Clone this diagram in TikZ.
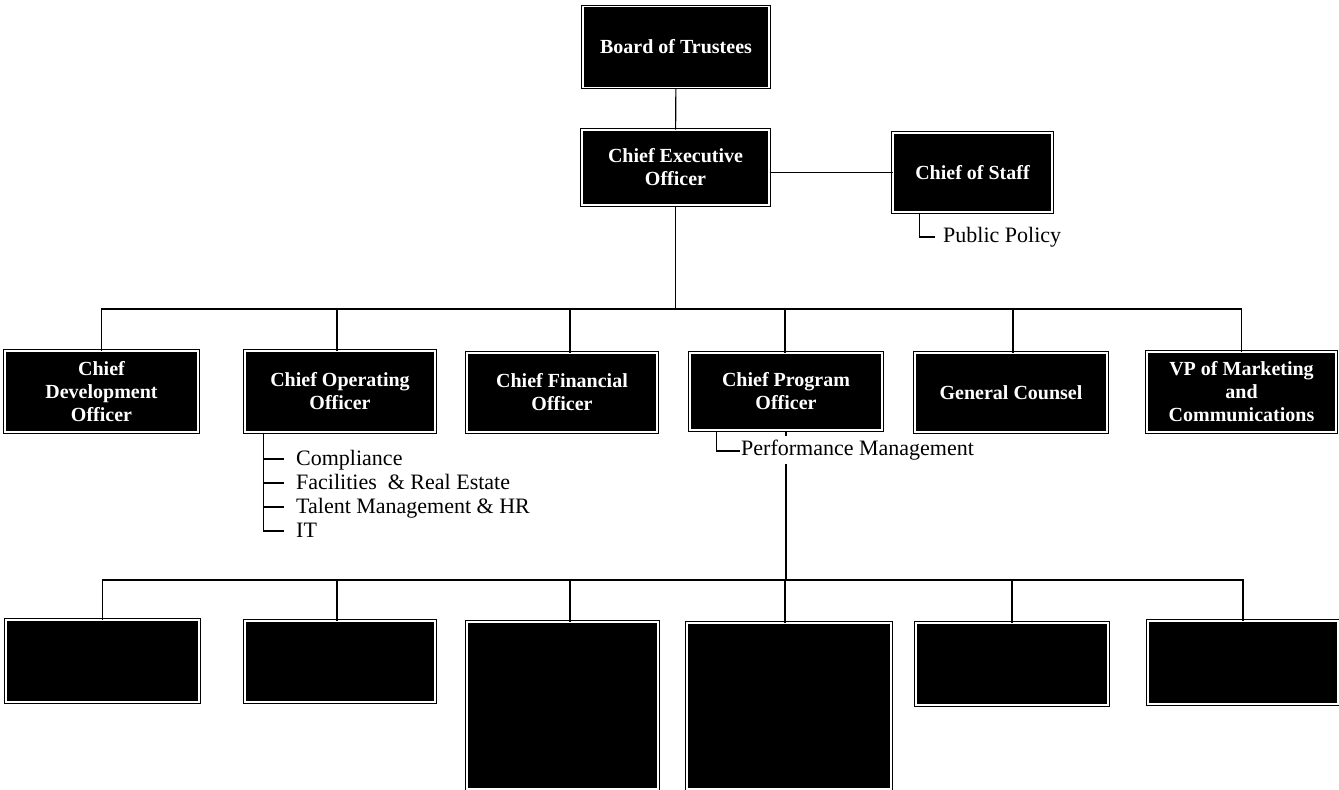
\documentclass[tikz,border=0pt]{standalone}
\usepackage{fontspec}
\setmainfont{Liberation Serif}
\begin{document}
\begin{tikzpicture}[x=1pt,y=-1pt,
  orgbox/.style={draw=black, double=white, double distance=1.3pt, line width=1pt,
    fill=black, text=white, font=\bfseries\fontsize{20}{23}\selectfont,
    align=center, inner sep=0pt},
  wh/.style 2 args={minimum width=#1pt, minimum height=#2pt},
  conn/.style={draw=black, line width=1.1pt},
  item/.style={font=\fontsize{22}{26}\selectfont, inner sep=2pt}]
\useasboundingbox (0,0) rectangle (1339,790);

% top level
\node[orgbox, wh={186}{81}] (bot) at (676,47) {Board of Trustees};
\node[orgbox, wh={187}{75}] (ceo) at (675.5,167.5) {Chief Executive\\Officer};
\node[orgbox, wh={159}{79}] (cos) at (972.5,172.5) {Chief of Staff};

% second level
\node[orgbox, wh={193}{81}] (cdo) at (101.5,391.5) {Chief\\Development\\Officer};
\node[orgbox, wh={190}{81}] (coo) at (340,391.5) {Chief Operating\\Officer};
\node[orgbox, wh={190}{79}] (cfo) at (562,392.5) {Chief Financial\\Officer};
\node[orgbox, wh={192}{77}] (cpo) at (786,391.5) {Chief Program\\Officer};
\node[orgbox, wh={192}{79}] (gc)  at (1011,392.5) {General Counsel};
\node[orgbox, wh={189}{80}] (vp)  at (1241.5,392) {VP of Marketing\\and\\Communications};

% third level
\node[orgbox, wh={193}{82}] (b1) at (102.5,661) {};
\node[orgbox, wh={190}{81}] (b2) at (340,661.5) {};
\node[orgbox, wh={191}{167}] (b3) at (562.5,705.5) {};
\node[orgbox, wh={204}{166}] (b4) at (789,706) {};
\node[orgbox, wh={192}{82}] (b5) at (1012,664) {};
\node[orgbox, wh={190}{83}] (b6) at (1243,662.5) {};

% connectors top
\draw[conn] (bot) -- (ceo);
\draw[conn] (cos.west -| ceo.east) -- (cos.west);

% Public Policy
\node[item, anchor=west] (pp) at (941,237) {Public Policy};
\draw[conn] ([xshift=27pt]cos.south west) |- ([xshift=-6pt]pp.west);

% first bus
\coordinate (busA) at (675.5,309);
\draw[conn] (ceo.south) -- (busA);
\draw[conn] (cdo.north) -- (cdo.north |- busA) -- (vp.north |- busA) -- (vp.north);
\draw[conn] ([xshift=-3pt]coo.north) -- ([xshift=-3pt]coo.north |- busA);
\draw[conn] ([xshift=8pt]cfo.north) -- ([xshift=8pt]cfo.north |- busA);
\draw[conn] ([xshift=-1pt]cpo.north) -- ([xshift=-1pt]cpo.north |- busA);
\draw[conn] ([xshift=2pt]gc.north) -- ([xshift=2pt]gc.north |- busA);

% second bus
\coordinate (busB) at (786,580);
\draw[conn] (cpo.south) -- (busB);
\draw[conn] (b1.north) -- (b1.north |- busB) -- (b6.north |- busB) -- (b6.north);
\draw[conn] ([xshift=-3pt]b2.north) -- ([xshift=-3pt]b2.north |- busB);
\draw[conn] ([xshift=7.5pt]b3.north) -- ([xshift=7.5pt]b3.north |- busB);
\draw[conn] ([xshift=-4pt]b4.north) -- ([xshift=-4pt]b4.north |- busB);
\draw[conn] (b5.north) -- (b5.north |- busB);

% Performance Management
\node[item, anchor=base west, fill=white, inner ysep=4pt] (pm) at (739,455) {Performance Management};
\draw[conn] ([xshift=27pt]cpo.south west) |- ([xshift=1pt,yshift=4pt]pm.base west);

% COO sub-list
\node[item, anchor=base west] (l1) at (294,465) {Compliance};
\node[item, anchor=base west] (l2) at (294,489) {Facilities~ \& Real Estate};
\node[item, anchor=base west] (l3) at (294,513) {Talent Management \& HR};
\node[item, anchor=base west] (l4) at (294,537) {IT};
\coordinate (cooL) at ([xshift=19pt]coo.south west);
\coordinate (t1) at ([xshift=-10pt,yshift=6pt]l1.base west);
\coordinate (t2) at ([xshift=-10pt,yshift=6pt]l2.base west);
\coordinate (t3) at ([xshift=-10pt,yshift=6pt]l3.base west);
\coordinate (t4) at ([xshift=-10pt,yshift=6pt]l4.base west);
\draw[conn] (cooL) |- (t4);
\draw[conn] (t1 -| cooL) -- (t1);
\draw[conn] (t2 -| cooL) -- (t2);
\draw[conn] (t3 -| cooL) -- (t3);
\end{tikzpicture}
\end{document}
